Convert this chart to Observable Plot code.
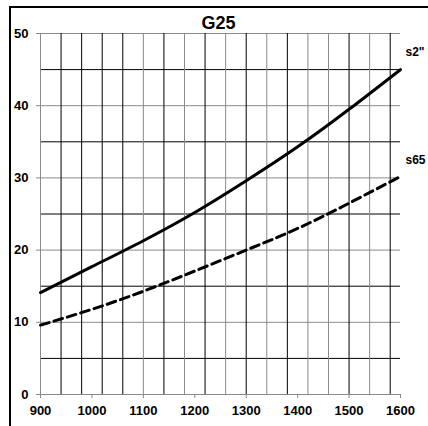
<!DOCTYPE html>
<html>
<head>
<meta charset="utf-8">
<script src="https://cdn.jsdelivr.net/npm/d3@7"></script>
<script src="https://cdn.jsdelivr.net/npm/@observablehq/plot@0.6"></script>
<style>
  html, body { margin: 0; padding: 0; background: #fff; }
  #wrap { position: relative; width: 428px; height: 426px; overflow: hidden; }
  #frame { position: absolute; left: 9px; top: 6px; width: 440px; height: 440px;
           border-left: 2px solid #000; border-top: 2px solid #000; box-sizing: border-box; pointer-events: none; }
  svg { display: block; }
</style>
</head>
<body>
<div id="wrap"><div id="frame"></div></div>
<script>
const title = "G25";
const xValues = [900, 1000, 1100, 1200, 1300, 1400, 1500, 1600];
const s2Values = [14.1, 17.7, 21.3, 25.2, 29.6, 34.3, 39.5, 45.0];
const s65Values = [9.6, 11.8, 14.3, 17.1, 20.0, 23.0, 26.5, 30.2];
const seriesNames = ["s2\"", "s65"];
const xTicks = [900, 1000, 1100, 1200, 1300, 1400, 1500, 1600];
const yTicks = [0, 10, 20, 30, 40, 50];
const yMinor = [5, 15, 25, 35, 45];
const yMajor = [10, 20, 30, 40, 50];
const xGrid = d3.range(940, 1600, 40);
const xGridLight = [1100, 1180, 1260, 1340, 1420, 1460, 1540];

const s2 = xValues.map((x, i) => ({x, y: s2Values[i]}));
const s65 = xValues.map((x, i) => ({x, y: s65Values[i]}));
const font = "Liberation Sans, Arial, sans-serif";

const chart = Plot.plot({
  width: 428,
  height: 426,
  marginLeft: 40,
  marginRight: 28,
  marginTop: 33,
  marginBottom: 32,
  style: {fontFamily: font, background: "transparent", overflow: "visible"},
  x: {domain: [900, 1600]},
  y: {domain: [0, 50]},
  marks: [
    Plot.ruleY(yMajor, {stroke: "#8a8a8a", strokeWidth: 1}),
    Plot.ruleY(yMinor, {stroke: "#000", strokeWidth: 1}),
    Plot.ruleX(xGrid, {stroke: d => xGridLight.includes(d) ? "#8a8a8a" : "#000", strokeWidth: 1}),
    Plot.ruleX([900], {stroke: "#8a8a8a", strokeWidth: 1}),
    Plot.ruleY([0], {stroke: "#8a8a8a", strokeWidth: 1}),
    Plot.axisY({ticks: yTicks, tickSize: 4, tickPadding: 8, stroke: "#8a8a8a", fill: "#000",
      fontSize: 13, fontWeight: "bold", label: null, tickFormat: "d"}),
    Plot.axisX({ticks: xTicks, tickSize: 4, tickPadding: 7, stroke: "#8a8a8a", fill: "#000",
      fontSize: 13, fontWeight: "bold", label: null, tickFormat: "d"}),
    Plot.line(s2, {x: "x", y: "y", curve: "natural", stroke: "#000", strokeWidth: 3}),
    Plot.line(s65, {x: "x", y: "y", curve: "natural", stroke: "#000", strokeWidth: 3, strokeDasharray: "9,5"}),
    Plot.text([s2[s2.length - 1]], {x: "x", y: "y", text: () => seriesNames[0], textAnchor: "start",
      dx: 5, dy: -17, fontSize: 12, fontWeight: "bold", fill: "#000"}),
    Plot.text([s65[s65.length - 1]], {x: "x", y: "y", text: () => seriesNames[1], textAnchor: "start",
      dx: 5, dy: -16, fontSize: 12, fontWeight: "bold", fill: "#000"}),
    Plot.text([title], {frameAnchor: "top", lineAnchor: "bottom", dy: -5, dx: -2,
      fontSize: 18, fontWeight: "bold", fill: "#000"})
  ]
});
document.getElementById("wrap").prepend(chart);
</script>
</body>
</html>
